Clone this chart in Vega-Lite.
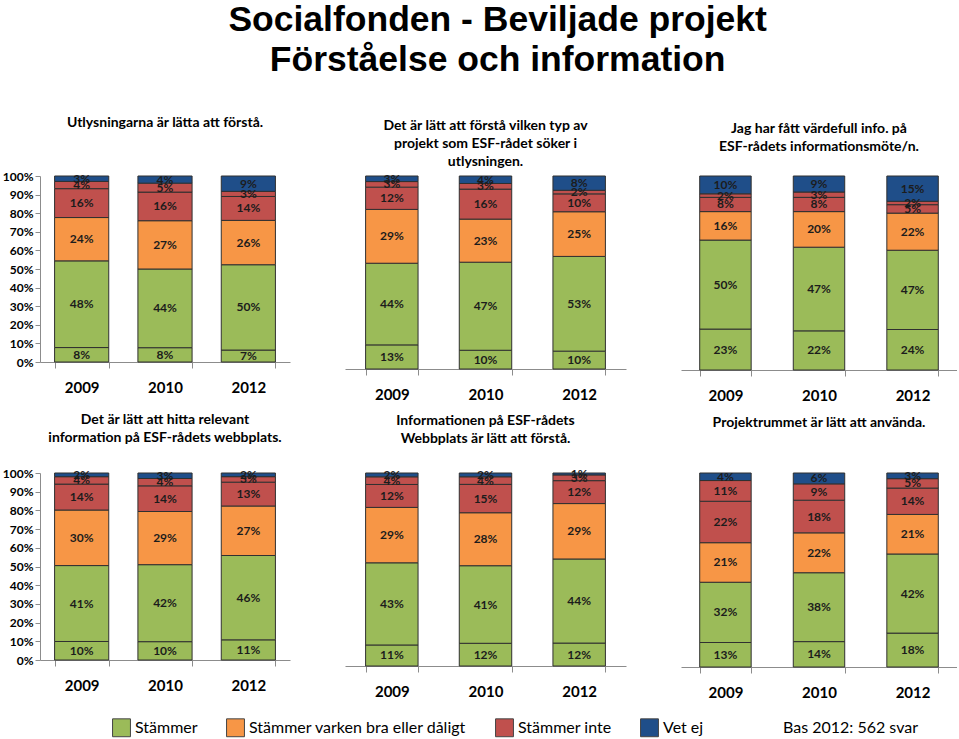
{
  "$schema": "https://vega.github.io/schema/vega-lite/v6.json",
  "background": "white",
  "padding": {"left": 2, "top": 2, "right": 0, "bottom": 0},
  "title": {
    "text": ["Socialfonden - Beviljade projekt", "Förståelse och information"],
    "font": "Liberation Sans",
    "fontSize": 35.5,
    "fontWeight": "bold",
    "lineHeight": 40,
    "color": "black",
    "anchor": "middle",
    "dx": 18,
    "offset": 38
  },
  "datasets": {
    "svar": [
      {"p": 1, "år": "2009", "seg": 1, "kat": "Stämmer", "v": 8},
      {"p": 1, "år": "2009", "seg": 2, "kat": "Stämmer", "v": 48},
      {"p": 1, "år": "2009", "seg": 3, "kat": "Stämmer varken bra eller dåligt", "v": 24},
      {"p": 1, "år": "2009", "seg": 4, "kat": "Stämmer inte", "v": 16},
      {"p": 1, "år": "2009", "seg": 5, "kat": "Stämmer inte", "v": 4},
      {"p": 1, "år": "2009", "seg": 6, "kat": "Vet ej", "v": 3},
      {"p": 1, "år": "2010", "seg": 1, "kat": "Stämmer", "v": 8},
      {"p": 1, "år": "2010", "seg": 2, "kat": "Stämmer", "v": 44},
      {"p": 1, "år": "2010", "seg": 3, "kat": "Stämmer varken bra eller dåligt", "v": 27},
      {"p": 1, "år": "2010", "seg": 4, "kat": "Stämmer inte", "v": 16},
      {"p": 1, "år": "2010", "seg": 5, "kat": "Stämmer inte", "v": 5},
      {"p": 1, "år": "2010", "seg": 6, "kat": "Vet ej", "v": 4},
      {"p": 1, "år": "2012", "seg": 1, "kat": "Stämmer", "v": 7},
      {"p": 1, "år": "2012", "seg": 2, "kat": "Stämmer", "v": 50},
      {"p": 1, "år": "2012", "seg": 3, "kat": "Stämmer varken bra eller dåligt", "v": 26},
      {"p": 1, "år": "2012", "seg": 4, "kat": "Stämmer inte", "v": 14},
      {"p": 1, "år": "2012", "seg": 5, "kat": "Stämmer inte", "v": 3},
      {"p": 1, "år": "2012", "seg": 6, "kat": "Vet ej", "v": 9},

      {"p": 2, "år": "2009", "seg": 1, "kat": "Stämmer", "v": 13},
      {"p": 2, "år": "2009", "seg": 2, "kat": "Stämmer", "v": 44},
      {"p": 2, "år": "2009", "seg": 3, "kat": "Stämmer varken bra eller dåligt", "v": 29},
      {"p": 2, "år": "2009", "seg": 4, "kat": "Stämmer inte", "v": 12},
      {"p": 2, "år": "2009", "seg": 5, "kat": "Stämmer inte", "v": 3},
      {"p": 2, "år": "2009", "seg": 6, "kat": "Vet ej", "v": 3},
      {"p": 2, "år": "2010", "seg": 1, "kat": "Stämmer", "v": 10},
      {"p": 2, "år": "2010", "seg": 2, "kat": "Stämmer", "v": 47},
      {"p": 2, "år": "2010", "seg": 3, "kat": "Stämmer varken bra eller dåligt", "v": 23},
      {"p": 2, "år": "2010", "seg": 4, "kat": "Stämmer inte", "v": 16},
      {"p": 2, "år": "2010", "seg": 5, "kat": "Stämmer inte", "v": 3},
      {"p": 2, "år": "2010", "seg": 6, "kat": "Vet ej", "v": 4},
      {"p": 2, "år": "2012", "seg": 1, "kat": "Stämmer", "v": 10},
      {"p": 2, "år": "2012", "seg": 2, "kat": "Stämmer", "v": 53},
      {"p": 2, "år": "2012", "seg": 3, "kat": "Stämmer varken bra eller dåligt", "v": 25},
      {"p": 2, "år": "2012", "seg": 4, "kat": "Stämmer inte", "v": 10},
      {"p": 2, "år": "2012", "seg": 5, "kat": "Stämmer inte", "v": 2},
      {"p": 2, "år": "2012", "seg": 6, "kat": "Vet ej", "v": 8},

      {"p": 3, "år": "2009", "seg": 1, "kat": "Stämmer", "v": 23},
      {"p": 3, "år": "2009", "seg": 2, "kat": "Stämmer", "v": 50},
      {"p": 3, "år": "2009", "seg": 3, "kat": "Stämmer varken bra eller dåligt", "v": 16},
      {"p": 3, "år": "2009", "seg": 4, "kat": "Stämmer inte", "v": 8},
      {"p": 3, "år": "2009", "seg": 5, "kat": "Stämmer inte", "v": 2},
      {"p": 3, "år": "2009", "seg": 6, "kat": "Vet ej", "v": 10},
      {"p": 3, "år": "2010", "seg": 1, "kat": "Stämmer", "v": 22},
      {"p": 3, "år": "2010", "seg": 2, "kat": "Stämmer", "v": 47},
      {"p": 3, "år": "2010", "seg": 3, "kat": "Stämmer varken bra eller dåligt", "v": 20},
      {"p": 3, "år": "2010", "seg": 4, "kat": "Stämmer inte", "v": 8},
      {"p": 3, "år": "2010", "seg": 5, "kat": "Stämmer inte", "v": 3},
      {"p": 3, "år": "2010", "seg": 6, "kat": "Vet ej", "v": 9},
      {"p": 3, "år": "2012", "seg": 1, "kat": "Stämmer", "v": 24},
      {"p": 3, "år": "2012", "seg": 2, "kat": "Stämmer", "v": 47},
      {"p": 3, "år": "2012", "seg": 3, "kat": "Stämmer varken bra eller dåligt", "v": 22},
      {"p": 3, "år": "2012", "seg": 4, "kat": "Stämmer inte", "v": 5},
      {"p": 3, "år": "2012", "seg": 5, "kat": "Stämmer inte", "v": 2},
      {"p": 3, "år": "2012", "seg": 6, "kat": "Vet ej", "v": 15},

      {"p": 4, "år": "2009", "seg": 1, "kat": "Stämmer", "v": 10},
      {"p": 4, "år": "2009", "seg": 2, "kat": "Stämmer", "v": 41},
      {"p": 4, "år": "2009", "seg": 3, "kat": "Stämmer varken bra eller dåligt", "v": 30},
      {"p": 4, "år": "2009", "seg": 4, "kat": "Stämmer inte", "v": 14},
      {"p": 4, "år": "2009", "seg": 5, "kat": "Stämmer inte", "v": 4},
      {"p": 4, "år": "2009", "seg": 6, "kat": "Vet ej", "v": 2},
      {"p": 4, "år": "2010", "seg": 1, "kat": "Stämmer", "v": 10},
      {"p": 4, "år": "2010", "seg": 2, "kat": "Stämmer", "v": 42},
      {"p": 4, "år": "2010", "seg": 3, "kat": "Stämmer varken bra eller dåligt", "v": 29},
      {"p": 4, "år": "2010", "seg": 4, "kat": "Stämmer inte", "v": 14},
      {"p": 4, "år": "2010", "seg": 5, "kat": "Stämmer inte", "v": 4},
      {"p": 4, "år": "2010", "seg": 6, "kat": "Vet ej", "v": 3},
      {"p": 4, "år": "2012", "seg": 1, "kat": "Stämmer", "v": 11},
      {"p": 4, "år": "2012", "seg": 2, "kat": "Stämmer", "v": 46},
      {"p": 4, "år": "2012", "seg": 3, "kat": "Stämmer varken bra eller dåligt", "v": 27},
      {"p": 4, "år": "2012", "seg": 4, "kat": "Stämmer inte", "v": 13},
      {"p": 4, "år": "2012", "seg": 5, "kat": "Stämmer inte", "v": 3},
      {"p": 4, "år": "2012", "seg": 6, "kat": "Vet ej", "v": 2},

      {"p": 5, "år": "2009", "seg": 1, "kat": "Stämmer", "v": 11},
      {"p": 5, "år": "2009", "seg": 2, "kat": "Stämmer", "v": 43},
      {"p": 5, "år": "2009", "seg": 3, "kat": "Stämmer varken bra eller dåligt", "v": 29},
      {"p": 5, "år": "2009", "seg": 4, "kat": "Stämmer inte", "v": 12},
      {"p": 5, "år": "2009", "seg": 5, "kat": "Stämmer inte", "v": 4},
      {"p": 5, "år": "2009", "seg": 6, "kat": "Vet ej", "v": 2},
      {"p": 5, "år": "2010", "seg": 1, "kat": "Stämmer", "v": 12},
      {"p": 5, "år": "2010", "seg": 2, "kat": "Stämmer", "v": 41},
      {"p": 5, "år": "2010", "seg": 3, "kat": "Stämmer varken bra eller dåligt", "v": 28},
      {"p": 5, "år": "2010", "seg": 4, "kat": "Stämmer inte", "v": 15},
      {"p": 5, "år": "2010", "seg": 5, "kat": "Stämmer inte", "v": 4},
      {"p": 5, "år": "2010", "seg": 6, "kat": "Vet ej", "v": 2},
      {"p": 5, "år": "2012", "seg": 1, "kat": "Stämmer", "v": 12},
      {"p": 5, "år": "2012", "seg": 2, "kat": "Stämmer", "v": 44},
      {"p": 5, "år": "2012", "seg": 3, "kat": "Stämmer varken bra eller dåligt", "v": 29},
      {"p": 5, "år": "2012", "seg": 4, "kat": "Stämmer inte", "v": 12},
      {"p": 5, "år": "2012", "seg": 5, "kat": "Stämmer inte", "v": 3},
      {"p": 5, "år": "2012", "seg": 6, "kat": "Vet ej", "v": 1},

      {"p": 6, "år": "2009", "seg": 1, "kat": "Stämmer", "v": 13},
      {"p": 6, "år": "2009", "seg": 2, "kat": "Stämmer", "v": 32},
      {"p": 6, "år": "2009", "seg": 3, "kat": "Stämmer varken bra eller dåligt", "v": 21},
      {"p": 6, "år": "2009", "seg": 4, "kat": "Stämmer inte", "v": 22},
      {"p": 6, "år": "2009", "seg": 5, "kat": "Stämmer inte", "v": 11},
      {"p": 6, "år": "2009", "seg": 6, "kat": "Vet ej", "v": 4},
      {"p": 6, "år": "2010", "seg": 1, "kat": "Stämmer", "v": 14},
      {"p": 6, "år": "2010", "seg": 2, "kat": "Stämmer", "v": 38},
      {"p": 6, "år": "2010", "seg": 3, "kat": "Stämmer varken bra eller dåligt", "v": 22},
      {"p": 6, "år": "2010", "seg": 4, "kat": "Stämmer inte", "v": 18},
      {"p": 6, "år": "2010", "seg": 5, "kat": "Stämmer inte", "v": 9},
      {"p": 6, "år": "2010", "seg": 6, "kat": "Vet ej", "v": 6},
      {"p": 6, "år": "2012", "seg": 1, "kat": "Stämmer", "v": 18},
      {"p": 6, "år": "2012", "seg": 2, "kat": "Stämmer", "v": 42},
      {"p": 6, "år": "2012", "seg": 3, "kat": "Stämmer varken bra eller dåligt", "v": 21},
      {"p": 6, "år": "2012", "seg": 4, "kat": "Stämmer inte", "v": 14},
      {"p": 6, "år": "2012", "seg": 5, "kat": "Stämmer inte", "v": 5},
      {"p": 6, "år": "2012", "seg": 6, "kat": "Vet ej", "v": 3}
    ]
  },
  "data": {"name": "svar"},
  "columns": 3,
  "align": "each",
  "spacing": {"row": 10, "column": 55},
  "concat": [
    {
      "title": {"text": ["Utlysningarna är lätta att förstå.", " ", " "]},
      "width": 250, "height": 186,
      "transform": [
        {"filter": "datum.p == 1"},
        {"stack": "v", "groupby": ["år"], "sort": [{"field": "seg", "order": "ascending"}], "offset": "normalize", "as": ["y0", "y1"]},
        {"calculate": "(datum.y0 + datum.y1) / 2", "as": "ym"},
        {"calculate": "datum.v + '%'", "as": "lbl"}
      ],
      "encoding": {"x": {"field": "år", "type": "nominal", "title": null, "scale": {"paddingInner": 0.35, "paddingOuter": 0.175}}},
      "layer": [
        {"mark": {"type": "bar", "stroke": "#303030", "strokeWidth": 1},
         "encoding": {
           "y": {"field": "y0", "type": "quantitative", "scale": {"domain": [0, 1], "nice": false},
                 "axis": {"format": ".0%", "values": [0, 0.1, 0.2, 0.3, 0.4, 0.5, 0.6, 0.7, 0.8, 0.9, 1], "title": null}},
           "y2": {"field": "y1"},
           "color": {"field": "kat", "type": "nominal",
                     "scale": {"domain": ["Stämmer", "Stämmer varken bra eller dåligt", "Stämmer inte", "Vet ej"], "range": ["#9bbb59", "#f79646", "#c0504d", "#1f4e89"]},
                     "legend": {"title": "Bas 2012: 562 svar"}}}},
        {"mark": {"type": "text"},
         "encoding": {"y": {"field": "ym", "type": "quantitative",
                            "axis": {"format": ".0%", "values": [0, 0.1, 0.2, 0.3, 0.4, 0.5, 0.6, 0.7, 0.8, 0.9, 1], "title": null}},
                      "text": {"field": "lbl"}}}
      ]
    },
    {
      "title": {"text": ["Det är lätt att förstå vilken typ av", "projekt som ESF-rådet söker i", "utlysningen."]},
      "width": 281, "height": 193,
      "transform": [
        {"filter": "datum.p == 2"},
        {"stack": "v", "groupby": ["år"], "sort": [{"field": "seg", "order": "ascending"}], "offset": "normalize", "as": ["y0", "y1"]},
        {"calculate": "(datum.y0 + datum.y1) / 2", "as": "ym"},
        {"calculate": "datum.v + '%'", "as": "lbl"}
      ],
      "encoding": {"x": {"field": "år", "type": "nominal", "title": null, "scale": {"paddingInner": 0.44, "paddingOuter": 0.22}}},
      "layer": [
        {"mark": {"type": "bar", "stroke": "#303030", "strokeWidth": 1},
         "encoding": {
           "y": {"field": "y0", "type": "quantitative", "scale": {"domain": [0, 1], "nice": false}, "axis": null},
           "y2": {"field": "y1"},
           "color": {"field": "kat", "type": "nominal",
                     "scale": {"domain": ["Stämmer", "Stämmer varken bra eller dåligt", "Stämmer inte", "Vet ej"], "range": ["#9bbb59", "#f79646", "#c0504d", "#1f4e89"]},
                     "legend": {"title": "Bas 2012: 562 svar"}}}},
        {"mark": {"type": "text"},
         "encoding": {"y": {"field": "ym", "type": "quantitative", "axis": null}, "text": {"field": "lbl"}}}
      ]
    },
    {
      "title": {"text": ["Jag har fått värdefull info. på", "ESF-rådets informationsmöte/n.", " "]},
      "width": 276, "height": 194,
      "transform": [
        {"filter": "datum.p == 3"},
        {"stack": "v", "groupby": ["år"], "sort": [{"field": "seg", "order": "ascending"}], "offset": "normalize", "as": ["y0", "y1"]},
        {"calculate": "(datum.y0 + datum.y1) / 2", "as": "ym"},
        {"calculate": "datum.v + '%'", "as": "lbl"}
      ],
      "encoding": {"x": {"field": "år", "type": "nominal", "title": null, "scale": {"paddingInner": 0.45, "paddingOuter": 0.2}}},
      "layer": [
        {"mark": {"type": "bar", "stroke": "#303030", "strokeWidth": 1},
         "encoding": {
           "y": {"field": "y0", "type": "quantitative", "scale": {"domain": [0, 1], "nice": false}, "axis": null},
           "y2": {"field": "y1"},
           "color": {"field": "kat", "type": "nominal",
                     "scale": {"domain": ["Stämmer", "Stämmer varken bra eller dåligt", "Stämmer inte", "Vet ej"], "range": ["#9bbb59", "#f79646", "#c0504d", "#1f4e89"]},
                     "legend": {"title": "Bas 2012: 562 svar"}}}},
        {"mark": {"type": "text"},
         "encoding": {"y": {"field": "ym", "type": "quantitative", "axis": null}, "text": {"field": "lbl"}}}
      ]
    },
    {
      "title": {"text": ["Det är lätt att hitta relevant", "information på ESF-rådets webbplats.", " "]},
      "width": 250, "height": 187,
      "transform": [
        {"filter": "datum.p == 4"},
        {"stack": "v", "groupby": ["år"], "sort": [{"field": "seg", "order": "ascending"}], "offset": "normalize", "as": ["y0", "y1"]},
        {"calculate": "(datum.y0 + datum.y1) / 2", "as": "ym"},
        {"calculate": "datum.v + '%'", "as": "lbl"}
      ],
      "encoding": {"x": {"field": "år", "type": "nominal", "title": null, "scale": {"paddingInner": 0.35, "paddingOuter": 0.175}}},
      "layer": [
        {"mark": {"type": "bar", "stroke": "#303030", "strokeWidth": 1},
         "encoding": {
           "y": {"field": "y0", "type": "quantitative", "scale": {"domain": [0, 1], "nice": false},
                 "axis": {"format": ".0%", "values": [0, 0.1, 0.2, 0.3, 0.4, 0.5, 0.6, 0.7, 0.8, 0.9, 1], "title": null}},
           "y2": {"field": "y1"},
           "color": {"field": "kat", "type": "nominal",
                     "scale": {"domain": ["Stämmer", "Stämmer varken bra eller dåligt", "Stämmer inte", "Vet ej"], "range": ["#9bbb59", "#f79646", "#c0504d", "#1f4e89"]},
                     "legend": {"title": "Bas 2012: 562 svar"}}}},
        {"mark": {"type": "text"},
         "encoding": {"y": {"field": "ym", "type": "quantitative",
                            "axis": {"format": ".0%", "values": [0, 0.1, 0.2, 0.3, 0.4, 0.5, 0.6, 0.7, 0.8, 0.9, 1], "title": null}},
                      "text": {"field": "lbl"}}}
      ]
    },
    {
      "title": {"text": ["Informationen på ESF-rådets", "Webbplats är lätt att förstå.", " "]},
      "width": 281, "height": 193,
      "transform": [
        {"filter": "datum.p == 5"},
        {"stack": "v", "groupby": ["år"], "sort": [{"field": "seg", "order": "ascending"}], "offset": "normalize", "as": ["y0", "y1"]},
        {"calculate": "(datum.y0 + datum.y1) / 2", "as": "ym"},
        {"calculate": "datum.v + '%'", "as": "lbl"}
      ],
      "encoding": {"x": {"field": "år", "type": "nominal", "title": null, "scale": {"paddingInner": 0.44, "paddingOuter": 0.22}}},
      "layer": [
        {"mark": {"type": "bar", "stroke": "#303030", "strokeWidth": 1},
         "encoding": {
           "y": {"field": "y0", "type": "quantitative", "scale": {"domain": [0, 1], "nice": false}, "axis": null},
           "y2": {"field": "y1"},
           "color": {"field": "kat", "type": "nominal",
                     "scale": {"domain": ["Stämmer", "Stämmer varken bra eller dåligt", "Stämmer inte", "Vet ej"], "range": ["#9bbb59", "#f79646", "#c0504d", "#1f4e89"]},
                     "legend": {"title": "Bas 2012: 562 svar"}}}},
        {"mark": {"type": "text"},
         "encoding": {"y": {"field": "ym", "type": "quantitative", "axis": null}, "text": {"field": "lbl"}}}
      ]
    },
    {
      "title": {"text": ["Projektrummet är lätt att använda.", " ", " "]},
      "width": 276, "height": 194,
      "transform": [
        {"filter": "datum.p == 6"},
        {"stack": "v", "groupby": ["år"], "sort": [{"field": "seg", "order": "ascending"}], "offset": "normalize", "as": ["y0", "y1"]},
        {"calculate": "(datum.y0 + datum.y1) / 2", "as": "ym"},
        {"calculate": "datum.v + '%'", "as": "lbl"}
      ],
      "encoding": {"x": {"field": "år", "type": "nominal", "title": null, "scale": {"paddingInner": 0.45, "paddingOuter": 0.2}}},
      "layer": [
        {"mark": {"type": "bar", "stroke": "#303030", "strokeWidth": 1},
         "encoding": {
           "y": {"field": "y0", "type": "quantitative", "scale": {"domain": [0, 1], "nice": false}, "axis": null},
           "y2": {"field": "y1"},
           "color": {"field": "kat", "type": "nominal",
                     "scale": {"domain": ["Stämmer", "Stämmer varken bra eller dåligt", "Stämmer inte", "Vet ej"], "range": ["#9bbb59", "#f79646", "#c0504d", "#1f4e89"]},
                     "legend": {"title": "Bas 2012: 562 svar"}}}},
        {"mark": {"type": "text"},
         "encoding": {"y": {"field": "ym", "type": "quantitative", "axis": null}, "text": {"field": "lbl"}}}
      ]
    }
  ],
  "config": {
    "font": "Lato",
    "view": {"stroke": null},
    "title": {"font": "Lato", "fontSize": 14, "fontWeight": "bold", "lineHeight": 18, "color": "black", "anchor": "middle", "offset": 4},
    "text": {"font": "Lato", "fontSize": 12, "fontWeight": "bold", "color": "#1c1c1c", "baseline": "middle"},
    "axis": {"grid": false, "domainColor": "#8c8c8c", "tickColor": "#8c8c8c", "labelColor": "black", "labelFont": "Lato", "labelFontWeight": "bold"},
    "axisY": {"labelFontSize": 12, "tickSize": 5, "labelPadding": 2},
    "axisX": {"labelAngle": 0, "labelFontSize": 15, "labelPadding": 12, "tickSize": 6, "tickBand": "extent"},
    "legend": {
      "orient": "bottom",
      "direction": "horizontal",
      "titleOrient": "right",
      "titleFont": "Lato",
      "titleFontSize": 16,
      "titleFontWeight": "normal",
      "titleColor": "black",
      "titlePadding": 80,
      "symbolType": "square",
      "symbolSize": 320,
      "symbolStrokeColor": "#444444",
      "symbolStrokeWidth": 1,
      "symbolOpacity": 1,
      "labelFont": "Lato",
      "labelFontSize": 16,
      "labelColor": "black",
      "labelLimit": 400,
      "columnPadding": 26,
      "offset": 18,
      "layout": {"bottom": {"anchor": "end"}}
    }
  }
}
